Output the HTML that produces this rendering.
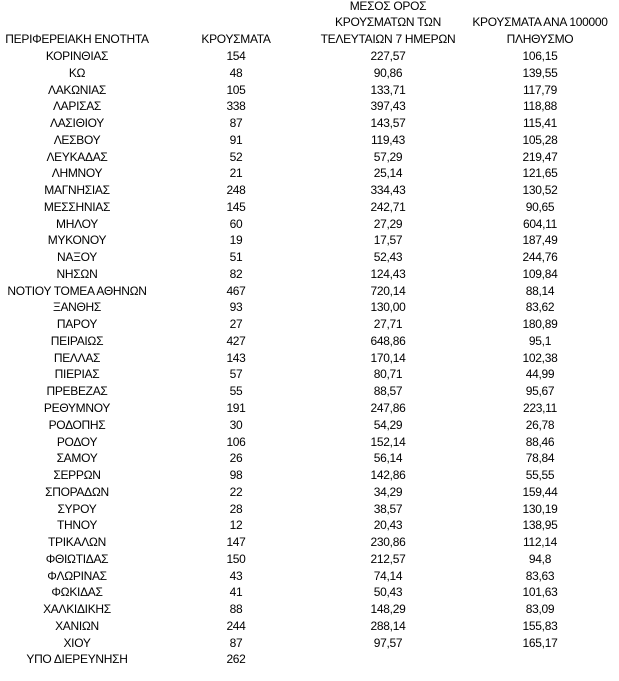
<!DOCTYPE html>
<html><head><meta charset="utf-8"><style>
body{margin:0;background:#fff;width:619px;height:681px;overflow:hidden;position:relative;font-family:"Liberation Sans","DejaVu Sans",sans-serif;font-size:12px;color:#000;letter-spacing:-0.3px}
.t{position:absolute;white-space:nowrap;transform:translateX(-50%);line-height:14px}
</style></head><body>
<div class="t" style="left:77px;top:32px">ΠΕΡΙΦΕΡΕΙΑΚΗ ΕΝΟΤΗΤΑ</div>
<div class="t" style="left:236px;top:32px">ΚΡΟΥΣΜΑΤΑ</div>
<div class="t" style="left:388px;top:-1px">ΜΕΣΟΣ ΟΡΟΣ</div>
<div class="t" style="left:388px;top:15px">ΚΡΟΥΣΜΑΤΩΝ ΤΩΝ</div>
<div class="t" style="left:388px;top:32px">ΤΕΛΕΥΤΑΙΩΝ 7 ΗΜΕΡΩΝ</div>
<div class="t" style="left:540px;top:15px">ΚΡΟΥΣΜΑΤΑ ΑΝΑ 100000</div>
<div class="t" style="left:540px;top:32px">ΠΛΗΘΥΣΜΟ</div>
<div id="rows"></div>
<script>
var d=[["ΚΟΡΙΝΘΙΑΣ",154,"227,57","106,15"],["ΚΩ",48,"90,86","139,55"],["ΛΑΚΩΝΙΑΣ",105,"133,71","117,79"],["ΛΑΡΙΣΑΣ",338,"397,43","118,88"],["ΛΑΣΙΘΙΟΥ",87,"143,57","115,41"],["ΛΕΣΒΟΥ",91,"119,43","105,28"],["ΛΕΥΚΑΔΑΣ",52,"57,29","219,47"],["ΛΗΜΝΟΥ",21,"25,14","121,65"],["ΜΑΓΝΗΣΙΑΣ",248,"334,43","130,52"],["ΜΕΣΣΗΝΙΑΣ",145,"242,71","90,65"],["ΜΗΛΟΥ",60,"27,29","604,11"],["ΜΥΚΟΝΟΥ",19,"17,57","187,49"],["ΝΑΞΟΥ",51,"52,43","244,76"],["ΝΗΣΩΝ",82,"124,43","109,84"],["ΝΟΤΙΟΥ ΤΟΜΕΑ ΑΘΗΝΩΝ",467,"720,14","88,14"],["ΞΑΝΘΗΣ",93,"130,00","83,62"],["ΠΑΡΟΥ",27,"27,71","180,89"],["ΠΕΙΡΑΙΩΣ",427,"648,86","95,1"],["ΠΕΛΛΑΣ",143,"170,14","102,38"],["ΠΙΕΡΙΑΣ",57,"80,71","44,99"],["ΠΡΕΒΕΖΑΣ",55,"88,57","95,67"],["ΡΕΘΥΜΝΟΥ",191,"247,86","223,11"],["ΡΟΔΟΠΗΣ",30,"54,29","26,78"],["ΡΟΔΟΥ",106,"152,14","88,46"],["ΣΑΜΟΥ",26,"56,14","78,84"],["ΣΕΡΡΩΝ",98,"142,86","55,55"],["ΣΠΟΡΑΔΩΝ",22,"34,29","159,44"],["ΣΥΡΟΥ",28,"38,57","130,19"],["ΤΗΝΟΥ",12,"20,43","138,95"],["ΤΡΙΚΑΛΩΝ",147,"230,86","112,14"],["ΦΘΙΩΤΙΔΑΣ",150,"212,57","94,8"],["ΦΛΩΡΙΝΑΣ",43,"74,14","83,63"],["ΦΩΚΙΔΑΣ",41,"50,43","101,63"],["ΧΑΛΚΙΔΙΚΗΣ",88,"148,29","83,09"],["ΧΑΝΙΩΝ",244,"288,14","155,83"],["ΧΙΟΥ",87,"97,57","165,17"],["ΥΠΟ ΔΙΕΡΕΥΝΗΣΗ",262,"",""]];
var h="",xs=[77,236,388,540];
d.forEach(function(r,i){var y=(49+i*16.76).toFixed(1);for(var j=0;j<4;j++){if(r[j]!=="")h+='<div class="t" style="left:'+xs[j]+'px;top:'+y+'px">'+r[j]+'</div>';}});
document.getElementById("rows").innerHTML=h;
</script>
</body></html>
